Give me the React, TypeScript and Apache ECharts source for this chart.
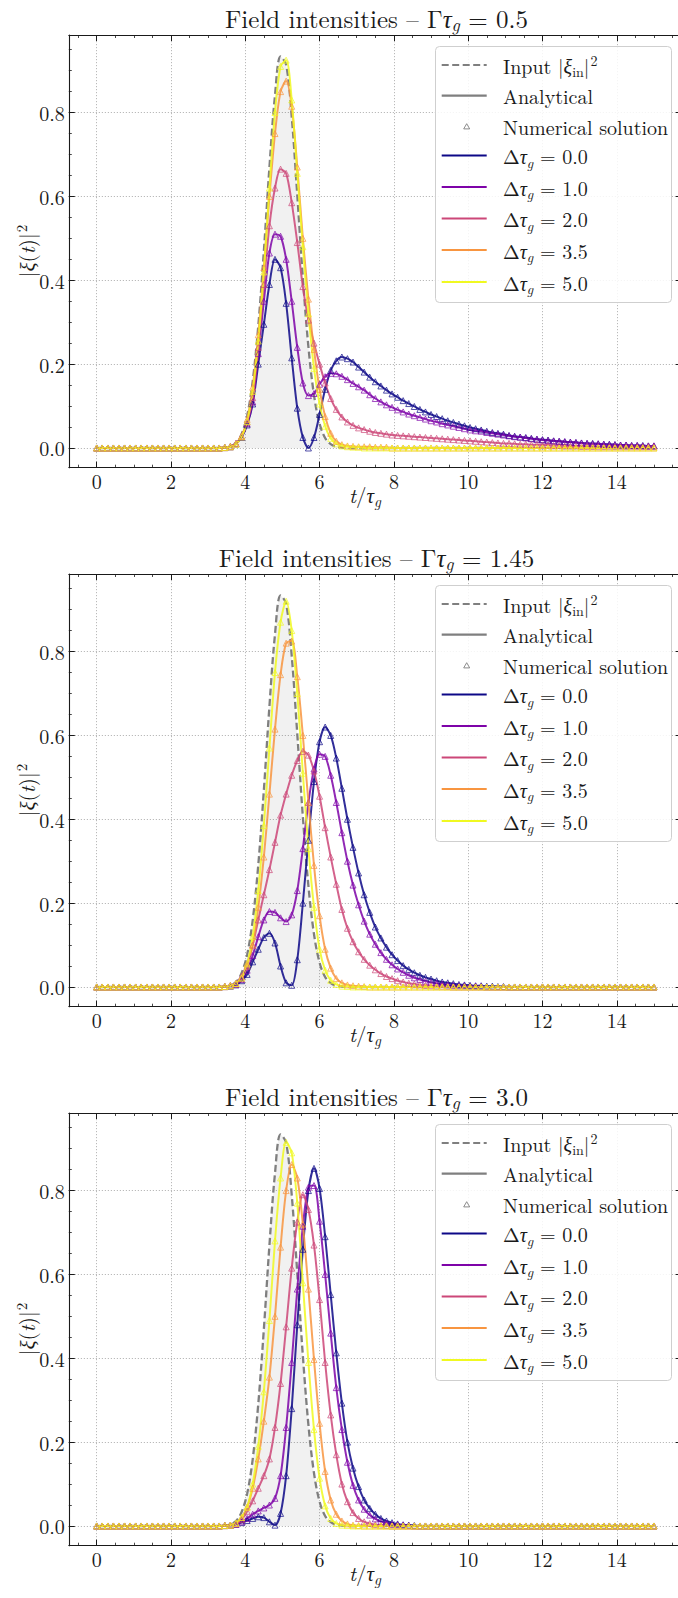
import React, { useEffect, useRef } from "react";
import * as echarts from "echarts";

// ---------------- data ----------------
// time grid t/tau_g (101 samples, step 0.15)
const T: number[] = Array.from({ length: 101 }, (_, k) => Math.round(k * 15) / 100);
// values below are listed from sample index 23 (t = 3.45); earlier samples are 0
const FIRST = 23;

const INPUT = [0.001, 0.004, 0.012, 0.033, 0.077, 0.159, 0.291, 0.469, 0.669, 0.841, 0.934, 0.914, 0.79, 0.603, 0.406, 0.241, 0.126, 0.058, 0.024, 0.009, 0.003, 0.001];

// Gamma tau_g = 0.5
const G05_D00 = [0.001, 0.003, 0.01, 0.025, 0.055, 0.105, 0.2, 0.295, 0.39, 0.45, 0.43, 0.345, 0.215, 0.095, 0.025, 0.0, 0.025, 0.08, 0.14, 0.185, 0.208, 0.217, 0.213, 0.205, 0.193, 0.181, 0.169, 0.158, 0.148, 0.138, 0.129, 0.121, 0.113, 0.106, 0.099, 0.092, 0.086, 0.08, 0.075, 0.07, 0.065, 0.061, 0.057, 0.053, 0.049, 0.046, 0.043, 0.04, 0.037, 0.035, 0.033, 0.03, 0.028, 0.026, 0.025, 0.023, 0.021, 0.02, 0.019, 0.017, 0.016, 0.015, 0.014, 0.013, 0.012, 0.011, 0.011, 0.01, 0.009, 0.009, 0.008, 0.007, 0.007, 0.006, 0.006, 0.006, 0.005, 0.005];
const G05_D10 = [0.001, 0.003, 0.01, 0.026, 0.058, 0.11, 0.225, 0.35, 0.465, 0.51, 0.505, 0.45, 0.35, 0.24, 0.155, 0.125, 0.13, 0.152, 0.17, 0.178, 0.177, 0.171, 0.163, 0.154, 0.146, 0.138, 0.127, 0.118, 0.11, 0.103, 0.097, 0.091, 0.086, 0.081, 0.077, 0.073, 0.069, 0.065, 0.062, 0.058, 0.055, 0.052, 0.049, 0.046, 0.043, 0.041, 0.04, 0.037, 0.035, 0.033, 0.031, 0.029, 0.027, 0.026, 0.024, 0.022, 0.021, 0.019, 0.018, 0.017, 0.016, 0.015, 0.014, 0.013, 0.012, 0.011, 0.01, 0.01, 0.009, 0.008, 0.008, 0.007, 0.007, 0.006, 0.006, 0.005, 0.005, 0.005];
const G05_D20 = [0.001, 0.004, 0.011, 0.028, 0.062, 0.12, 0.24, 0.39, 0.53, 0.62, 0.665, 0.655, 0.585, 0.49, 0.385, 0.305, 0.25, 0.2, 0.155, 0.118, 0.092, 0.074, 0.062, 0.054, 0.048, 0.044, 0.04, 0.037, 0.035, 0.033, 0.031, 0.03, 0.029, 0.028, 0.027, 0.026, 0.025, 0.024, 0.023, 0.022, 0.021, 0.02, 0.019, 0.018, 0.017, 0.016, 0.015, 0.014, 0.013, 0.012, 0.011, 0.011, 0.01, 0.009, 0.009, 0.008, 0.008, 0.007, 0.007, 0.006, 0.006, 0.005, 0.005, 0.005, 0.004, 0.004, 0.004, 0.003, 0.003, 0.003, 0.003, 0.003, 0.003, 0.003, 0.003, 0.003, 0.003, 0.003];
const G05_D35 = [0.001, 0.003, 0.01, 0.028, 0.068, 0.145, 0.27, 0.43, 0.6, 0.75, 0.85, 0.875, 0.815, 0.67, 0.5, 0.355, 0.235, 0.14, 0.075, 0.035, 0.016, 0.008, 0.005, 0.004, 0.003, 0.003, 0.003, 0.002, 0.002, 0.002];
const G05_D50 = [0.001, 0.003, 0.009, 0.026, 0.063, 0.135, 0.255, 0.42, 0.62, 0.8, 0.91, 0.925, 0.83, 0.655, 0.48, 0.32, 0.19, 0.105, 0.052, 0.023, 0.01, 0.005, 0.003, 0.002, 0.002];

// Gamma tau_g = 1.45
const G145_D00 = [0.001, 0.002, 0.005, 0.015, 0.03, 0.06, 0.09, 0.118, 0.128, 0.105, 0.05, 0.01, 0.004, 0.065, 0.2, 0.35, 0.49, 0.585, 0.62, 0.6, 0.546, 0.474, 0.4, 0.333, 0.272, 0.22, 0.178, 0.143, 0.117, 0.095, 0.077, 0.063, 0.051, 0.042, 0.034, 0.028, 0.023, 0.019, 0.015, 0.012, 0.01, 0.008, 0.006, 0.005, 0.004, 0.003, 0.003, 0.002, 0.002, 0.001, 0.001];
const G145_D10 = [0.001, 0.003, 0.006, 0.018, 0.04, 0.075, 0.12, 0.16, 0.18, 0.178, 0.165, 0.156, 0.172, 0.23, 0.33, 0.44, 0.52, 0.555, 0.55, 0.505, 0.44, 0.368, 0.3, 0.243, 0.196, 0.157, 0.126, 0.102, 0.082, 0.066, 0.053, 0.043, 0.035, 0.028, 0.022, 0.018, 0.014, 0.011, 0.009, 0.007, 0.005, 0.004, 0.003, 0.003, 0.002, 0.002, 0.001];
const G145_D20 = [0.001, 0.004, 0.009, 0.025, 0.055, 0.1, 0.16, 0.22, 0.28, 0.345, 0.41, 0.46, 0.505, 0.54, 0.562, 0.553, 0.515, 0.455, 0.38, 0.31, 0.245, 0.185, 0.14, 0.108, 0.084, 0.066, 0.052, 0.041, 0.032, 0.025, 0.02, 0.015, 0.012, 0.009, 0.007, 0.005, 0.004, 0.003, 0.002, 0.002, 0.001];
const G145_D35 = [0.001, 0.003, 0.008, 0.02, 0.05, 0.1, 0.19, 0.31, 0.46, 0.615, 0.745, 0.82, 0.825, 0.74, 0.6, 0.44, 0.29, 0.17, 0.09, 0.045, 0.02, 0.01, 0.005, 0.003, 0.002, 0.001];
const G145_D50 = [0.001, 0.003, 0.008, 0.022, 0.055, 0.12, 0.23, 0.385, 0.57, 0.75, 0.87, 0.92, 0.85, 0.7, 0.51, 0.33, 0.19, 0.09, 0.04, 0.016, 0.006, 0.002, 0.001];

// Gamma tau_g = 3.0
const G30_D00 = [0.001, 0.002, 0.004, 0.008, 0.013, 0.018, 0.022, 0.02, 0.01, 0.002, 0.03, 0.12, 0.28, 0.48, 0.66, 0.8, 0.853, 0.805, 0.69, 0.552, 0.413, 0.293, 0.2, 0.138, 0.094, 0.062, 0.042, 0.028, 0.018, 0.012, 0.008, 0.005, 0.003, 0.002, 0.001];
const G30_D10 = [0.001, 0.002, 0.004, 0.01, 0.018, 0.028, 0.036, 0.043, 0.05, 0.066, 0.12, 0.235, 0.39, 0.565, 0.715, 0.808, 0.812, 0.727, 0.6, 0.46, 0.33, 0.23, 0.152, 0.097, 0.062, 0.04, 0.026, 0.017, 0.011, 0.007, 0.004, 0.003, 0.002, 0.001];
const G30_D20 = [0.001, 0.002, 0.005, 0.015, 0.035, 0.06, 0.09, 0.12, 0.16, 0.235, 0.34, 0.475, 0.615, 0.725, 0.79, 0.755, 0.67, 0.54, 0.39, 0.265, 0.17, 0.1, 0.058, 0.032, 0.018, 0.01, 0.006, 0.003, 0.002, 0.001];
const G30_D35 = [0.001, 0.002, 0.006, 0.02, 0.045, 0.09, 0.16, 0.25, 0.355, 0.5, 0.665, 0.8, 0.862, 0.83, 0.72, 0.565, 0.397, 0.245, 0.13, 0.062, 0.028, 0.012, 0.005, 0.002, 0.001];
const G30_D50 = [0.001, 0.002, 0.007, 0.02, 0.045, 0.1, 0.19, 0.32, 0.49, 0.68, 0.83, 0.915, 0.89, 0.77, 0.58, 0.39, 0.23, 0.114, 0.048, 0.018, 0.006, 0.002, 0.001];

const GAMMA_LABELS = ["0.5", "1.45", "3.0"];
const DELTA_LABELS = ["0.0", "1.0", "2.0", "3.5", "5.0"];
const COLORS = ["#0d0887", "#7e03a8", "#cc4778", "#f89540", "#f0f921"];
const X_MAJOR = [0, 2, 4, 6, 8, 10, 12, 14];
const X_MINOR = [-0.5, 0, 0.5, 1, 1.5, 2, 2.5, 3, 3.5, 4, 4.5, 5, 5.5, 6, 6.5, 7, 7.5, 8, 8.5, 9, 9.5, 10, 10.5, 11, 11.5, 12, 12.5, 13, 13.5, 14, 14.5, 15, 15.5];
const Y_MAJOR = [0, 0.2, 0.4, 0.6, 0.8];
const Y_MINOR = [0, 0.05, 0.1, 0.15, 0.2, 0.25, 0.3, 0.35, 0.4, 0.45, 0.5, 0.55, 0.6, 0.65, 0.7, 0.75, 0.8, 0.85, 0.9, 0.95];

const PANEL_DATA = [
  [G05_D00, G05_D10, G05_D20, G05_D35, G05_D50],
  [G145_D00, G145_D10, G145_D20, G145_D35, G145_D50],
  [G30_D00, G30_D10, G30_D20, G30_D35, G30_D50],
];

// ---------------- layout / style ----------------
const FONT = "'Latin Modern Roman','Liberation Serif',serif";
const INK = "#1a1a1a";
const GRIDC = "#a8a8a8";
const X_MIN = -0.75;
const X_MAX = 15.75;
const Y_MIN = -0.047;
const Y_MAX = 0.985;
const GRID_LEFT = 68.8;
const GRID_W = 613;
const GRID_H = 432.7;
const GRID_TOP0 = 35;
const STEP = 539;

const toPairs = (vals: number[]) =>
  T.map((t, k) => [t, k < FIRST ? 0 : vals[k - FIRST] !== undefined ? vals[k - FIRST] : 0]);

const richFor = (fs: number, subPad = 0.6) => {
  const sub = Math.round(fs * 0.7);
  const pad = Math.round(fs * subPad);
  const padUp = Math.round(fs * 0.55);
  return {
    n: { fontFamily: FONT, fontSize: fs, color: INK, fill: INK },
    i: { fontFamily: FONT, fontSize: fs, fontStyle: "italic", color: INK, fill: INK },
    s: { fontFamily: FONT, fontSize: sub, fontStyle: "italic", color: INK, fill: INK, padding: [pad, 0, 0, 0] },
    u: { fontFamily: FONT, fontSize: sub, color: INK, fill: INK, padding: [pad, 0, 0, 0] },
    p: { fontFamily: FONT, fontSize: sub, color: INK, fill: INK, padding: [0, 0, padUp, 1] },
  };
};

function buildOption() {
  const grid: any[] = [];
  const xAxis: any[] = [];
  const yAxis: any[] = [];
  const series: any[] = [];
  const elements: any[] = [];

  for (let p = 0; p < 3; p++) {
    const top = GRID_TOP0 + STEP * p;
    grid.push({ left: GRID_LEFT, top, width: GRID_W, height: GRID_H, containLabel: false, outerBoundsMode: "none" });

    const bx = { gridIndex: p, type: "value", min: X_MIN, max: X_MAX };
    const by = { gridIndex: p, type: "value", min: Y_MIN, max: Y_MAX };
    const lineOn = { show: true, onZero: false, lineStyle: { color: INK, width: 1.1 } };
    const lineOff = { show: false, onZero: false };
    const majTick = (vals: number[]) => ({ show: true, inside: true, length: 6, customValues: vals, lineStyle: { color: INK, width: 1 } });
    const minTick = (vals: number[]) => ({ show: true, inside: true, length: 3, customValues: vals, lineStyle: { color: INK, width: 0.8 } });

    xAxis.push(
      {
        ...bx,
        position: "bottom",
        axisLine: lineOn,
        axisTick: majTick(X_MAJOR),
        axisLabel: { show: true, customValues: X_MAJOR, margin: 3, fontFamily: FONT, fontSize: 20, color: INK, formatter: (v: number) => String(v) },
        splitLine: { show: true, lineStyle: { color: GRIDC, width: 0.8, type: [1.2, 1.8] } },
      },
      { ...bx, position: "bottom", axisLine: lineOff, axisTick: minTick(X_MINOR), axisLabel: { show: false }, splitLine: { show: false } },
      { ...bx, position: "top", axisLine: lineOn, axisTick: majTick(X_MAJOR), axisLabel: { show: false }, splitLine: { show: false } },
      { ...bx, position: "top", axisLine: lineOff, axisTick: minTick(X_MINOR), axisLabel: { show: false }, splitLine: { show: false } }
    );
    yAxis.push(
      {
        ...by,
        position: "left",
        axisLine: lineOn,
        axisTick: majTick(Y_MAJOR),
        axisLabel: { show: true, customValues: Y_MAJOR, margin: 4, fontFamily: FONT, fontSize: 20, color: INK, formatter: (v: number) => v.toFixed(1) },
        splitLine: { show: true, lineStyle: { color: GRIDC, width: 0.8, type: [1.2, 1.8] } },
      },
      { ...by, position: "left", axisLine: lineOff, axisTick: minTick(Y_MINOR), axisLabel: { show: false }, splitLine: { show: false } },
      { ...by, position: "right", axisLine: lineOn, axisTick: majTick(Y_MAJOR), axisLabel: { show: false }, splitLine: { show: false } },
      { ...by, position: "right", axisLine: lineOff, axisTick: minTick(Y_MINOR), axisLabel: { show: false }, splitLine: { show: false } }
    );

    const xi = 4 * p;
    const yi = 4 * p;
    series.push({
      type: "line",
      name: "Input",
      xAxisIndex: xi,
      yAxisIndex: yi,
      data: toPairs(INPUT),
      smooth: 0.35,
      symbol: "none",
      silent: true,
      lineStyle: { color: "#7f7f7f", width: 2.3, type: [7, 3.5] },
      areaStyle: { color: "rgba(0,0,0,0.08)" },
      z: 2,
    });
    PANEL_DATA[p].forEach((vals, d) => {
      const data = toPairs(vals);
      series.push({
        type: "line",
        name: "Δτg = " + DELTA_LABELS[d],
        xAxisIndex: xi,
        yAxisIndex: yi,
        data,
        smooth: 0.3,
        symbol: "none",
        silent: true,
        lineStyle: { color: COLORS[d], width: 2, opacity: 0.85 },
        z: 3,
      });
      series.push({
        type: "scatter",
        name: "Numerical " + DELTA_LABELS[d],
        xAxisIndex: xi,
        yAxisIndex: yi,
        data,
        symbol: "triangle",
        symbolSize: 6,
        silent: true,
        itemStyle: { color: "rgba(0,0,0,0)", borderColor: COLORS[d], borderWidth: 1, opacity: 0.7 },
        z: 4,
      });
    });

    // title
    elements.push({
      type: "text",
      x: 376.5,
      y: 17.5 + STEP * p,
      z: 110,
      style: {
        text: "{n|Field intensities – Γ}{i|τ}{s|g}{n| = " + GAMMA_LABELS[p] + "}",
        rich: richFor(25, 0.44),
        fontFamily: FONT,
        fontSize: 25,
        fill: INK,
        align: "center",
        textAlign: "center",
        verticalAlign: "middle",
        textVerticalAlign: "middle",
      },
    });

    // x-axis label
    elements.push({
      type: "text",
      x: 365,
      y: 494 + STEP * p,
      z: 110,
      style: {
        text: "{i|t}{n|/}{i|τ}{s|g}",
        rich: richFor(21),
        fontFamily: FONT,
        fontSize: 21,
        fill: INK,
        align: "center",
        textAlign: "center",
        verticalAlign: "middle",
        textVerticalAlign: "middle",
      },
    });

    // y-axis label (rotated)
    elements.push({
      type: "text",
      x: 26,
      y: 251 + STEP * p,
      rotation: Math.PI / 2,
      z: 110,
      style: {
        text: "{n||}{i|ξ}{n|(}{i|t}{n|)|}{p|2}",
        rich: richFor(21),
        fontFamily: FONT,
        fontSize: 21,
        fill: INK,
        align: "center",
        textAlign: "center",
        verticalAlign: "middle",
        textVerticalAlign: "middle",
      },
    });

    // legend
    const oy = STEP * p;
    elements.push({
      type: "rect",
      z: 100,
      shape: { x: 435.5, y: 46.5 + oy, width: 236, height: 256, r: 4 },
      style: { fill: "rgba(255,255,255,0.85)", stroke: "#cfcfcf", lineWidth: 1 },
    });
    const rowsY = [65, 95.7, 126.7, 155.5, 187, 218.5, 250, 282];
    const lr = richFor(20);
    const textEl = (y: number, text: string) => ({
      type: "text",
      x: 503,
      y: y + oy,
      z: 102,
      style: { text, rich: lr, fontFamily: FONT, fontSize: 20, fill: INK, align: "left", textAlign: "left", verticalAlign: "middle", textVerticalAlign: "middle" },
    });
    const lineEl = (y: number, color: string, dash?: number[]) => ({
      type: "line",
      z: 101,
      shape: { x1: 441.7, y1: y + oy, x2: 486.7, y2: y + oy },
      style: { stroke: color, lineWidth: 2.2, lineDash: dash || null },
    });
    elements.push(lineEl(rowsY[0], "#7f7f7f", [7, 3.5]));
    elements.push(textEl(rowsY[0], "{n|Input |}{i|ξ}{u|in}{n||}{p|2}"));
    elements.push(lineEl(rowsY[1], "#7f7f7f"));
    elements.push(textEl(rowsY[1], "{n|Analytical}"));
    elements.push({
      type: "polygon",
      z: 101,
      shape: { points: [[466.7, rowsY[2] - 3 + oy], [463.7, rowsY[2] + 2.2 + oy], [469.7, rowsY[2] + 2.2 + oy]] },
      style: { fill: "none", stroke: "#7f7f7f", lineWidth: 0.9 },
    });
    elements.push(textEl(rowsY[2], "{n|Numerical solution}"));
    DELTA_LABELS.forEach((dl, d) => {
      elements.push(lineEl(rowsY[3 + d], COLORS[d]));
      elements.push(textEl(rowsY[3 + d], "{n|Δ}{i|τ}{s|g}{n| = " + dl + "}"));
    });
  }

  return {
    animation: false,
    backgroundColor: "#ffffff",
    grid,
    xAxis,
    yAxis,
    series,
    graphic: { elements },
  };
}

export default function App() {
  const ref = useRef<HTMLDivElement>(null);
  useEffect(() => {
    if (!ref.current) return;
    const chart = echarts.init(ref.current, null, { renderer: "svg" });
    chart.setOption(buildOption() as any);
    return () => chart.dispose();
  }, []);
  return (
    <div
      ref={ref}
      style={{ position: "absolute", left: 0, top: 0, width: 678, height: 1598, background: "#ffffff" }}
    />
  );
}
